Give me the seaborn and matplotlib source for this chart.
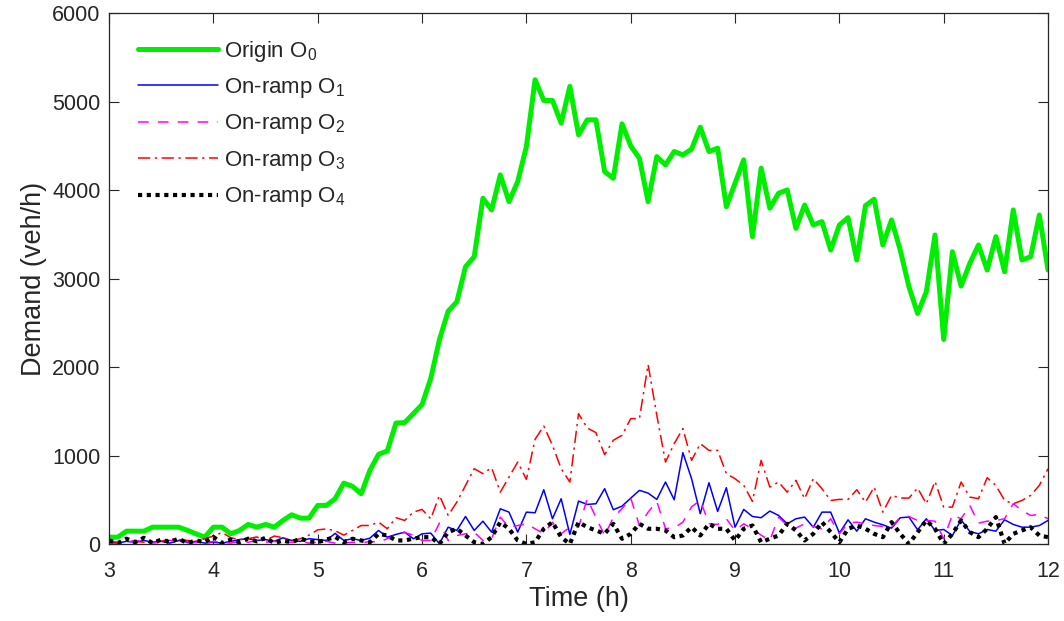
import numpy as np
import pandas as pd
import matplotlib
matplotlib.use("Agg")
import matplotlib.pyplot as plt
import seaborn as sns

# Demand profiles sampled every 5 minutes from 3:00 to 12:00
time_h = np.linspace(3, 12, 109)

origin_o0 = [77, 77, 145, 145, 145, 190, 190, 190, 190, 155,
             115, 77, 190, 190, 115, 153, 221, 190, 221, 190,
             266, 330, 292, 292, 436, 436, 511, 688, 651, 568,
             832, 1013, 1051, 1367, 1372, 1473, 1576, 1870, 2310, 2630,
             2737, 3133, 3246, 3907, 3775, 4171, 3869, 4095, 4491, 5246,
             5012, 5012, 4756, 5171, 4624, 4793, 4793, 4208, 4133, 4748,
             4499, 4359, 3869, 4378, 4284, 4435, 4397, 4462, 4710, 4435,
             4473, 3812, 4077, 4341, 3473, 4247, 3794, 3963, 4001, 3567,
             3831, 3605, 3643, 3322, 3605, 3688, 3209, 3824, 3896, 3379,
             3662, 3322, 2907, 2605, 2850, 3492, 2311, 3303, 2915, 3171,
             3379, 3096, 3473, 3077, 3775, 3209, 3246, 3718, 3096]

ramp_o1 = [20, 10, 30, 20, 40, 20, 30, 10, 40, 20, 30, 10, 20, 10, 30, 50, 60, 40, 50, 30,
           70, 40, 30, 60, 50, 40, 120,
           40, 59, 40, 66, 153, 77, 108, 134, 59, 115, 123, 2, 190, 153, 311, 153, 258, 134,
           398, 360, 134, 360, 353, 613, 285, 511, 108, 485,
           447, 455, 625, 387, 428, 518, 606, 575, 504, 700, 500, 1032, 738, 342, 692, 368,
           636, 190, 391, 311, 297, 372, 323, 228, 285, 304,
           190, 360, 360, 123, 273, 145, 285, 247, 217, 179, 297, 304, 160, 285, 153, 164,
           96, 273, 141, 115, 164, 145, 273, 221, 190, 190, 209, 266]

ramp_o2 = [10, 0, 20, 40, 30, 10, 20, 40, 30, 10, 20, 10, 30, 20, 10, 30, 20, 40, 20, 30,
           10, 20, 30, 10, 20, 30, 10,
           10, 20, 10, 30, 20, 60, 100, 130, 100, 40, 40, 236, 40, 96, 115, 134, 40, 60,
           304, 190, 209, 228, 172, 120, 247, 115, 190, 190,
           511, 300, 96, 300, 400, 520, 209, 360, 480, 175, 180, 247, 420, 494, 230, 220,
           285, 153, 228, 172, 100, 40, 304, 209, 180, 228,
           200, 172, 285, 115, 236, 247, 228, 209, 198, 190, 304, 311, 266, 266, 258, 60,
           330, 285, 436, 236, 258, 266, 285, 455, 379, 323, 334, 285]

ramp_o3 = [30, 20, 40, 30, 20, 40, 30, 60, 50, 40, 30, 60, 90, 130, 70, 50, 60, 80, 40, 90,
           70, 40, 60, 100, 160, 170, 150, 100,
           153, 209, 209, 247, 172, 297, 266, 360, 391, 285, 549, 323, 473, 662, 851, 795,
           862, 586, 756, 926, 730, 1183, 1333, 1115, 851, 700, 1473,
           1311, 1258, 1009, 1172, 1228, 1417, 1417, 2028, 1455, 926, 1134, 1304, 945, 1134,
           1058, 1058, 795, 738, 662, 481, 945, 643, 700, 586, 719, 512,
           738, 624, 492, 504, 504, 613, 473, 643, 360, 549, 519, 519, 632, 455, 707, 417,
           417, 700, 530, 512, 749, 662, 492, 455, 492, 549, 662, 851]

ramp_o4 = [40, 10, 60, 20, 70, 10, 50, 20, 60, 10, 40, 20, 80, 10, 50, 20, 60, 30, 70, 10,
           40, 20, 60, 30, 20, 50, 80,
           20, 59, 40, 20, 115, 96, 40, 40, 60, 77, 77, 0, 134, 172, 96, 20, 0, 77,
           247, 172, 40, 0, 20, 172, 247, 77, 0, 247,
           190, 153, 115, 228, 59, 115, 228, 172, 172, 153, 77, 96, 190, 96, 228, 172,
           172, 40, 172, 209, 20, 59, 96, 228, 153, 40,
           115, 247, 134, 20, 172, 209, 172, 115, 77, 247, 115, 0, 134, 266, 172, 2,
           115, 266, 134, 77, 172, 304, 2, 115, 153, 190, 96, 77]

series_labels = ["Origin O$_0$", "On-ramp O$_1$", "On-ramp O$_2$",
                 "On-ramp O$_3$", "On-ramp O$_4$"]
x_ticks = [3, 4, 5, 6, 7, 8, 9, 10, 11, 12]
y_ticks = [0, 1000, 2000, 3000, 4000, 5000, 6000]

df = pd.DataFrame({
    "time": time_h,
    "o0": origin_o0,
    "o1": ramp_o1,
    "o2": ramp_o2,
    "o3": ramp_o3,
    "o4": ramp_o4,
})

sns.set_theme(style="white")
plt.rcParams["font.family"] = ["Liberation Sans", "DejaVu Sans"]
plt.rcParams["mathtext.default"] = "regular"

fig = plt.figure(figsize=(10.64, 6.21), dpi=100)
ax = fig.add_axes([0.1025, 0.124, 0.8825, 0.855])

styles = [
    ("o0", "#00ee00", 3.6, "-"),
    ("o1", "#0000ff", 1.1, "-"),
    ("o2", "#ff00ff", 1.1, (0, (7, 6))),
    ("o3", "#ff0000", 1.1, (0, (8, 3, 1.5, 3))),
    ("o4", "#000000", 3.0, (0, (1, 1.1))),
]
for (col, color, lw, ls), label in zip(styles, series_labels):
    sns.lineplot(data=df, x="time", y=col, ax=ax, color=color, linewidth=lw,
                 linestyle=ls, label=label, errorbar=None)

ax.set_xlim(3, 12)
ax.set_ylim(0, 6000)
ax.set_xticks(x_ticks)
ax.set_yticks(y_ticks)
ax.set_xticklabels([str(v) for v in x_ticks])
ax.set_yticklabels([str(v) for v in y_ticks])
ax.tick_params(direction="in", length=7, width=0.8, colors="#262626",
               labelsize=15.5, labelcolor="#262626", top=True, right=True,
               bottom=True, left=True)
ax.tick_params(axis="x", pad=12)
ax.tick_params(axis="y", pad=6)
for sp in ax.spines.values():
    sp.set_visible(True)
    sp.set_color("#262626")
    sp.set_linewidth(0.9)

ax.set_xlabel("Time (h)", fontsize=19.5, color="#262626", labelpad=3)
ax.set_ylabel("Demand (veh/h)", fontsize=19.5, color="#262626", labelpad=4)

leg = ax.legend(loc="upper left", bbox_to_anchor=(0.031, 0.952), frameon=False,
                fontsize=16, handlelength=3.6, handletextpad=0.25,
                labelspacing=0.56, borderpad=0, borderaxespad=0)

fig.savefig("out.png", dpi=100)
